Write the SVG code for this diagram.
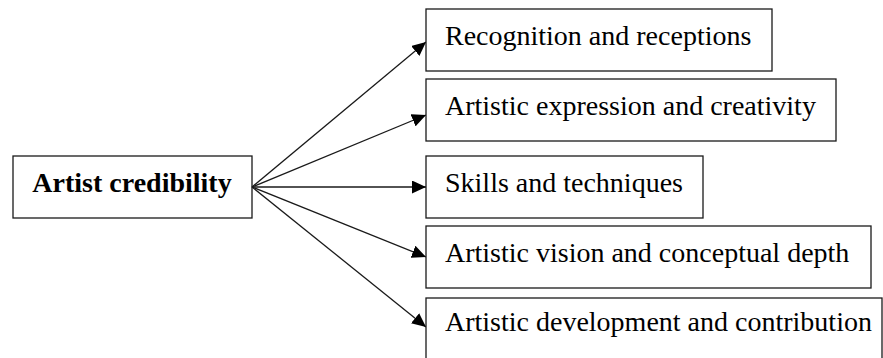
<svg xmlns="http://www.w3.org/2000/svg" width="883" height="358" viewBox="0 0 883 358">
  <style>
    .box { fill: #ffffff; stroke: #1a1a1a; stroke-width: 1.3; }
    .label { font-family: "Liberation Serif", "Times New Roman", serif; font-size: 28px; fill: #000000; }
    .title { font-weight: bold; text-anchor: middle; }
    .link { stroke: #1a1a1a; stroke-width: 1.3; fill: none; marker-end: url(#arrow); }
  </style>
  <defs>
    <marker id="arrow" markerUnits="userSpaceOnUse" markerWidth="15" markerHeight="13" refX="14" refY="6.5" orient="auto">
      <path d="M0,0 L14,6.5 L0,13 z" fill="#000000"/>
    </marker>
  </defs>

  <rect width="883" height="358" fill="#ffffff"/>

  <g id="source">
    <rect class="box" x="13" y="156" width="239" height="62"/>
    <text class="label title" x="132" y="192">Artist credibility</text>
  </g>

  <g id="connectors">
    <line class="link" x1="252" y1="187" x2="426" y2="42"/>
    <line class="link" x1="252" y1="187" x2="426" y2="115"/>
    <line class="link" x1="252" y1="187" x2="426" y2="187"/>
    <line class="link" x1="252" y1="187" x2="426" y2="257"/>
    <line class="link" x1="252" y1="187" x2="426" y2="327"/>
  </g>

  <g id="recognition">
    <rect class="box" x="426" y="9" width="346" height="62"/>
    <text class="label" x="445" y="45">Recognition and receptions</text>
  </g>

  <g id="expression">
    <rect class="box" x="426" y="79" width="410" height="62"/>
    <text class="label" x="445" y="115">Artistic expression and creativity</text>
  </g>

  <g id="skills">
    <rect class="box" x="426" y="156" width="277" height="62"/>
    <text class="label" x="445" y="192">Skills and techniques</text>
  </g>

  <g id="vision">
    <rect class="box" x="426" y="226" width="445" height="62"/>
    <text class="label" x="445" y="262">Artistic vision and conceptual depth</text>
  </g>

  <g id="development">
    <rect class="box" x="426" y="298" width="456" height="64"/>
    <text class="label" x="445" y="331">Artistic development and contribution</text>
  </g>
</svg>
